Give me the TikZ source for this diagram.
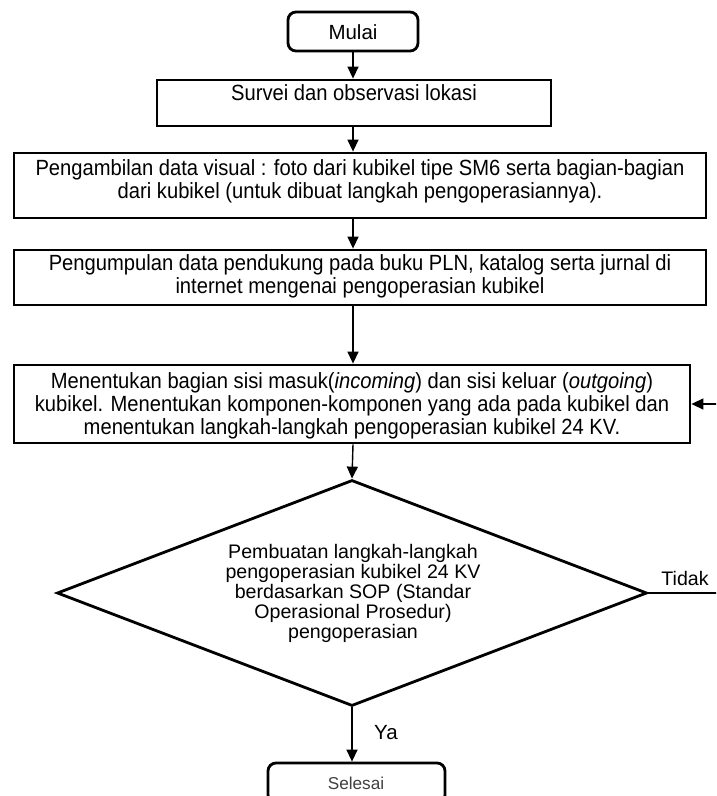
\documentclass[tikz,border=0pt]{standalone}
\usepackage{fontspec}
\setmainfont{Liberation Sans}
\newfontfamily\cond[FakeStretch=0.917]{Liberation Sans}
\usetikzlibrary{arrows.meta,shapes.geometric}
\begin{document}
\begin{tikzpicture}[x=1pt,y=-1pt,
  boxst/.style={draw, line width=2.8pt, inner sep=0pt, rectangle},
  termst/.style={boxst, rounded corners=8pt},
  conn/.style={line width=1.4pt, -{Triangle[length=12pt,width=11pt]}},
  btxt/.style={font=\fontsize{22}{23}\selectfont\cond, align=center, inner sep=0pt},
  dtxt/.style={font=\fontsize{19.6}{20}\selectfont, align=center, inner sep=0pt},
  ltxt/.style={font=\fontsize{19.6}{20}\selectfont, inner sep=0pt}]
\useasboundingbox (0,0) rectangle (716,796);
\clip (0,0) rectangle (716,796);
% boxes
\node[termst, minimum width=130pt, minimum height=39pt] (mulai) at (353,31.5) {};
\node[boxst, minimum width=394pt, minimum height=46pt] (survei) at (354,103) {};
\node[boxst, minimum width=692pt, minimum height=65pt] (b3) at (360,185.5) {};
\node[boxst, minimum width=692pt, minimum height=55pt] (b4) at (360,277.5) {};
\node[boxst, minimum width=676pt, minimum height=78pt] (b5) at (352,404) {};
\node[draw, diamond, line width=2.8pt, inner sep=0pt, minimum width=590pt, minimum height=226pt] (dia) at (352,593) {};
\node[termst, minimum width=177pt, minimum height=40pt] (selesai) at (356.5,783) {};
% texts
\node[ltxt, font=\fontsize{20.5}{20}\selectfont] (tmulai) at (353,32) {Mulai};
\node[btxt] (tsurvei) at (354,93) {Survei dan observasi lokasi};
\node[btxt] (tb3) at (360,181.5) {Pengambilan data visual : foto dari kubikel tipe SM6 serta bagian-bagian\\dari kubikel (untuk dibuat langkah pengoperasiannya).};
\node[btxt] (tb4) at (360,276.5) {Pengumpulan data pendukung pada buku PLN, katalog serta jurnal di\\internet mengenai pengoperasian kubikel};
\node[btxt] (tb5) at (352,405.5) {Menentukan bagian sisi masuk(\textit{incoming}) dan sisi keluar (\textit{outgoing})\\kubikel. Menentukan komponen-komponen yang ada pada kubikel dan\\menentukan langkah-langkah pengoperasian kubikel 24 KV.};
\node[dtxt] (tdia) at (353,593.5) {Pembuatan langkah-langkah\\pengoperasian kubikel 24 KV\\berdasarkan SOP (Standar\\Operasional Prosedur)\\pengoperasian};
\node[ltxt, font=\fontsize{17.2}{20}\selectfont, text=black!75] (tselesai) at (356,783) {Selesai};
\node[ltxt, font=\fontsize{20.5}{20}\selectfont] (tya) at (386,733) {Ya};
\node[ltxt] (ttidak) at (685,578) {Tidak};
% connectors
\draw[conn] (mulai.south) -- (mulai.south |- survei.north);
\draw[conn] (mulai.south |- survei.south) -- (mulai.south |- b3.north);
\draw[conn] (mulai.south |- b3.south) -- (mulai.south |- b4.north);
\draw[conn] (mulai.south |- b4.south) -- (mulai.south |- b5.north);
\draw[conn] (mulai.south |- b5.south) -- (dia.north);
\draw[conn] (dia.south) -- (dia.south |- selesai.north);
\draw[conn] (dia.east) -- ++(90,0) |- (b5.east);
\end{tikzpicture}
\end{document}
